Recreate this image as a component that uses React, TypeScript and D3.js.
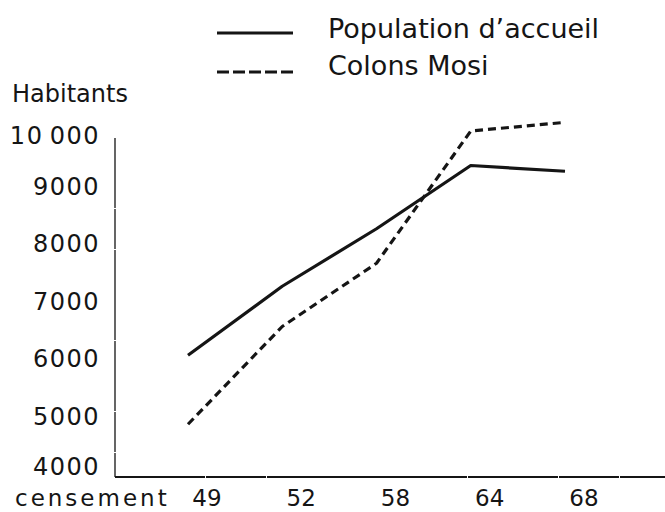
import React from "react";
import * as d3 from "d3";

const censusYears = ["49", "52", "58", "64", "68"];
const populationAccueil = [6100, 7300, 8300, 9400, 9300];
const colonsMosi = [4900, 6600, 7700, 10000, 10150];
const yTicks = [4000, 5000, 6000, 7000, 8000, 9000, 10000];
const seriesNames = ["Population d\u2019accueil", "Colons Mosi"];

const W = 665;
const H = 512;
const FONT = "DejaVu Sans, sans-serif";
const INK = "#151515";

export default function App() {
  const x = d3.scalePoint<string>().domain(censusYears).range([188, 565]);
  const y = d3.scaleLinear().domain([4000, 10000]).range([476, 131]);

  const line = d3
    .line<number>()
    .x((_, i) => x(censusYears[i]) as number)
    .y((d) => y(d));

  const fmt = (v: number) => (v >= 10000 ? "10\u2009000" : String(v));
  // label centres sit slightly inside the axis ends, as hand-lettered
  const labelY = (v: number) => Math.max(136, Math.min(467, y(v) - 2));

  return (
    <svg
      width={W}
      height={H}
      style={{ position: "absolute", left: 0, top: 0, background: "#fff" }}
    >
      <rect x={0} y={0} width={W} height={H} fill="#fff" />

      {/* Legend */}
      <line x1={217} x2={293} y1={33} y2={33} stroke={INK} strokeWidth={3} />
      <text x={328} y={38} fontFamily={FONT} fontSize={27} fill={INK}>
        {seriesNames[0]}
      </text>
      <line
        x1={217}
        x2={293}
        y1={72}
        y2={72}
        stroke={INK}
        strokeWidth={3}
        strokeDasharray="12,4"
      />
      <text x={328} y={75} fontFamily={FONT} fontSize={27} fill={INK}>
        {seriesNames[1]}
      </text>

      {/* Y axis title */}
      <text x={12} y={102} fontFamily={FONT} fontSize={24} fill={INK}>
        Habitants
      </text>

      {/* Axes */}
      <line
        x1={115}
        x2={115}
        y1={138}
        y2={477}
        stroke={INK}
        strokeWidth={1.3}
        strokeDasharray="70,1,40,1,90,1"
      />
      <line
        x1={115}
        x2={665}
        y1={477}
        y2={477}
        stroke={INK}
        strokeWidth={1.8}
        strokeDasharray="90,1,60,1,200,1"
      />

      {/* Y tick labels */}
      {yTicks.map((t) => (
        <text
          key={t}
          x={100}
          y={labelY(t)}
          dominantBaseline="central"
          textAnchor="end"
          fontFamily={FONT}
          fontSize={24}
          letterSpacing={1.5}
          fill={INK}
        >
          {fmt(t)}
        </text>
      ))}

      {/* X axis label and ticks */}
      <text
        x={15}
        y={506}
        fontFamily={FONT}
        fontSize={23}
        letterSpacing={3}
        fill={INK}
      >
        censement
      </text>
      {censusYears.map((c) => (
        <text
          key={c}
          x={(x(c) as number) + 19}
          y={506}
          textAnchor="middle"
          fontFamily={FONT}
          fontSize={23}
          fill={INK}
        >
          {c}
        </text>
      ))}

      {/* Series */}
      <path
        d={line(populationAccueil) || ""}
        fill="none"
        stroke={INK}
        strokeWidth={3.2}
        strokeLinejoin="round"
      />
      <path
        d={line(colonsMosi) || ""}
        fill="none"
        stroke={INK}
        strokeWidth={3.2}
        strokeDasharray="8,5"
        strokeLinejoin="round"
      />
    </svg>
  );
}
